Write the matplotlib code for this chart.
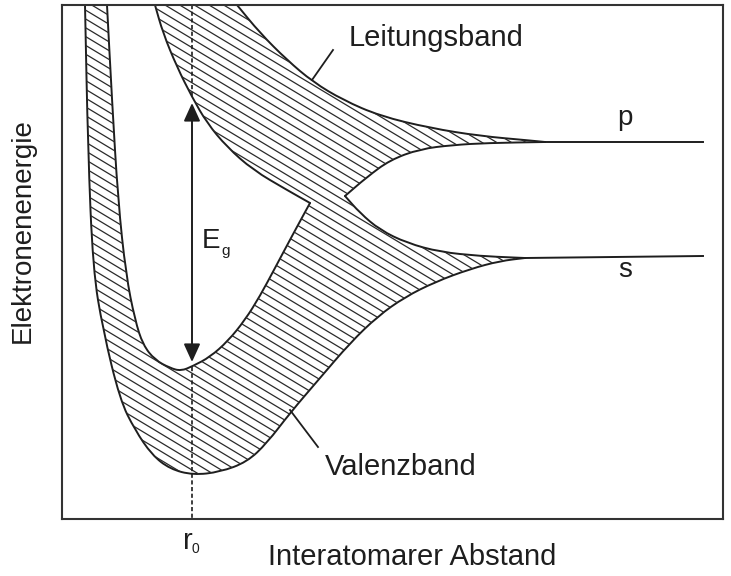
import numpy as np
import matplotlib
matplotlib.use('Agg')
import matplotlib.pyplot as plt
from matplotlib.path import Path
from matplotlib.patches import PathPatch
from matplotlib.collections import LineCollection

# band edges, (distance, energy) in drawing units; energy grows upwards (axis inverted)
val_outer = [(85, 5), (88, 150), (93, 270), (103, 330), (120, 400), (135, 430), (152, 455),
             (170, 469), (193, 475), (220, 472), (247, 462), (267, 443), (290, 413),
             (320, 378), (350, 343), (378, 316), (405, 297), (435, 282), (470, 269),
             (500, 261), (525, 258)]
val_inner = [(107, 5), (112, 100), (118, 200), (126, 275), (135, 320), (143, 345), (155, 360),
             (170, 368), (181, 371), (193, 366), (210, 357), (228, 341), (245, 320),
             (260, 296), (275, 268), (292, 236), (310, 203)]
cond_lower = [(155, 5), (163, 33), (177, 67), (192, 97), (207, 123), (227, 147), (253, 170),
              (287, 190), (310, 203)]
cond_upper = [(237, 5), (260, 33), (287, 60), (313, 82), (343, 100), (380, 116), (430, 128),
              (480, 136), (530, 140.5), (545, 142)]
p_lower = [(345, 196), (367, 177), (390, 160), (420, 149), (453, 145), (487, 143), (545, 142)]
s_upper = [(345, 196), (360, 213), (380, 230), (407, 243), (440, 252), (480, 256),
           (513, 257.5), (525, 258)]
p_level = [(545, 142), (703, 142)]
s_level = [(525, 258), (703, 256)]

r0 = 192
gap_top = 103
gap_bottom = 362
cond_at_r0 = 97
val_at_r0 = 367

ink = '#1e1e1e'
plt.rcParams['font.family'] = ['Liberation Sans', 'DejaVu Sans']


def spline(pts):
    # quadratic pieces through the midpoints, ends kept fixed
    pts = np.asarray(pts, float)
    verts = [pts[0]]
    codes = [Path.LINETO]
    if len(pts) > 2:
        verts.append((pts[0] + pts[1]) / 2)
        codes.append(Path.LINETO)
        for i in range(1, len(pts) - 1):
            verts += [pts[i], (pts[i] + pts[i + 1]) / 2]
            codes += [Path.CURVE3, Path.CURVE3]
    verts.append(pts[-1])
    codes.append(Path.LINETO)
    return verts, codes


def curve(pts):
    v, c = spline(pts)
    c[0] = Path.MOVETO
    return Path(v, c)


fig = plt.figure(figsize=(7.31, 5.76), dpi=100)
ax = fig.add_axes([62 / 731, 57 / 576, 661 / 731, 514 / 576])
ax.set_xlim(62, 723)
ax.set_ylim(519, 5)
ax.set_xticks([])
ax.set_yticks([])
for sp in ax.spines.values():
    sp.set_linewidth(1.5)
    sp.set_color('#333333')

# hatched band area, one closed outline
verts, codes = [], []
for seg in [val_outer, s_upper[::-1], p_lower, cond_upper[::-1], cond_lower, val_inner[::-1]]:
    v, c = spline(seg)
    verts += v
    codes += c
codes[0] = Path.MOVETO
verts.append(verts[0])
codes.append(Path.CLOSEPOLY)
region = PathPatch(Path(verts, codes), fc='none', ec='none')
ax.add_patch(region)

slope = 0.6
offsets = np.arange(-400, 520, 8.8)
hatch = LineCollection([[(62, c), (723, c + slope * 661)] for c in offsets],
                       colors='#2a2a2a', linewidths=0.9)
ax.add_collection(hatch)
hatch.set_clip_path(region)

for pts in [val_outer, val_inner, cond_lower, cond_upper, p_lower, s_upper]:
    ax.add_patch(PathPatch(curve(pts), fill=False, ec=ink, lw=1.4, capstyle='round'))
for lev in [p_level, s_level]:
    xs, ys = zip(*lev)
    ax.plot(xs, ys, color=ink, lw=1.4)

# equilibrium distance and gap
ax.plot([r0, r0], [5, cond_at_r0], color=ink, lw=1.2, ls=(0, (2.5, 1.5)))
ax.plot([r0, r0], [val_at_r0, 519], color=ink, lw=1.2, ls=(0, (2.5, 1.5)), clip_on=False)
ax.annotate('', xy=(r0, gap_top), xytext=(r0, gap_bottom),
            arrowprops=dict(arrowstyle='<|-|>,head_length=0.55,head_width=0.25',
                            mutation_scale=20, color=ink, lw=1.4, shrinkA=0, shrinkB=0))
ax.text(202, 248, 'E', fontsize=20, color=ink, va='baseline')
ax.text(221, 255, 'g', fontsize=11, color=ink, va='baseline')

# labels
ax.plot([333, 312], [50, 80], color=ink, lw=1.3)
ax.text(436, 38, 'Leitungsband', fontsize=21, color=ink, ha='center', va='center')
ax.plot([318, 290], [447, 410], color=ink, lw=1.3)
ax.text(401, 467, 'Valenzband', fontsize=21, color=ink, ha='center', va='center')
ax.text(625, 118, 'p', fontsize=20, color=ink, ha='center', va='center')
ax.text(625, 270, 's', fontsize=20, color=ink, ha='center', va='center')

ax.text(183, 549, 'r', fontsize=21, color=ink, va='baseline', clip_on=False)
ax.text(192, 553, '0', fontsize=10, color=ink, va='baseline', clip_on=False)
ax.text(412, 557, 'Interatomarer Abstand', fontsize=21, color=ink,
        ha='center', va='center', clip_on=False)
ax.text(23, 231, 'Elektronenenergie', fontsize=20, color=ink, rotation=90,
        ha='center', va='center', clip_on=False)

fig.savefig('out.png', dpi=100)
